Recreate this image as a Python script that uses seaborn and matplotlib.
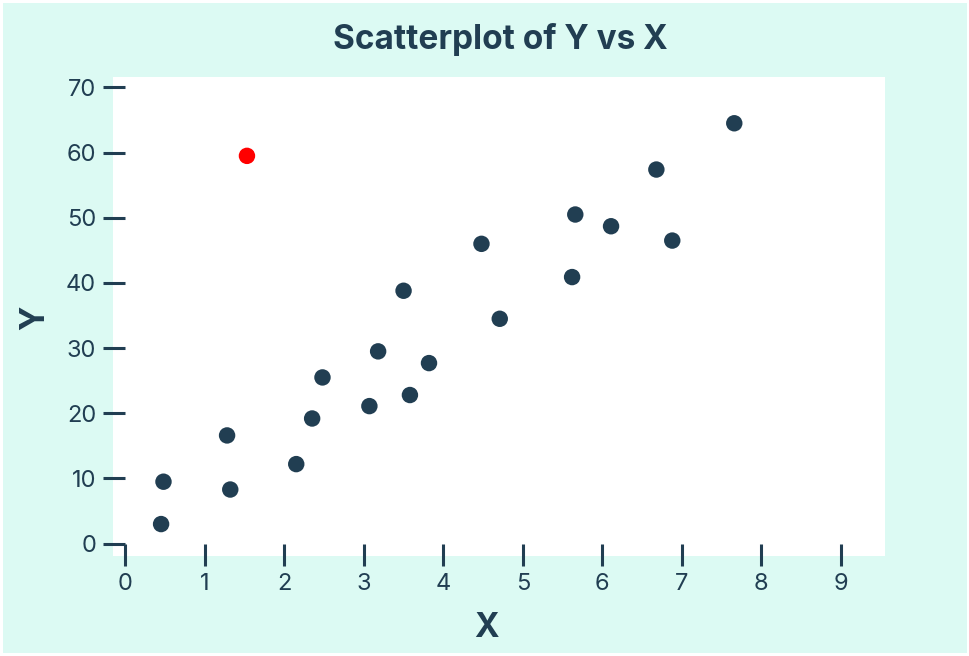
import pandas as pd
import seaborn as sns
import matplotlib.pyplot as plt

# values
x_vals = [0.45, 0.48, 1.32, 1.28, 2.15, 2.35, 2.48, 3.07, 3.18, 3.50,
          3.58, 3.82, 4.48, 4.71, 5.62, 5.66, 6.11, 6.68, 6.88, 7.66]
y_vals = [3.0, 9.5, 8.3, 16.6, 12.2, 19.2, 25.5, 21.1, 29.5, 38.8,
          22.8, 27.7, 46.0, 34.5, 40.9, 50.5, 48.7, 57.4, 46.5, 64.5]
outlier_x = [1.53]
outlier_y = [59.5]
x_ticks = list(range(0, 10))
y_ticks = list(range(0, 80, 10))

navy = '#213e52'
mint = '#dcfaf3'

df = pd.DataFrame({'X': x_vals + outlier_x,
                   'Y': y_vals + outlier_y,
                   'kind': ['normal'] * len(x_vals) + ['outlier'] * len(outlier_x)})

sns.set_style('white')
plt.rcParams['font.family'] = ['Inter', 'DejaVu Sans']

fig = plt.figure(figsize=(9.7, 6.56), dpi=100)
fig.patch.set_facecolor(mint)
fig.patch.set_edgecolor('white')
fig.patch.set_linewidth(4)
ax = fig.add_axes([113 / 970, 1 - 556 / 656, 772 / 970, 479 / 656])
ax.set_facecolor('white')

sns.scatterplot(data=df, x='X', y='Y', hue='kind',
                palette={'normal': navy, 'outlier': '#ff0000'},
                s=140, linewidth=0, legend=False, ax=ax)

ax.set_xlim(-0.155, 9.556)
ax.set_ylim(-1.9, 71.6)
ax.set_xticks(x_ticks)
ax.set_yticks(y_ticks)

# ticks hang off the zero lines, no spines drawn
for side in ['left', 'bottom']:
    ax.spines[side].set_position(('data', 0))
    ax.spines[side].set_color('none')
for side in ['top', 'right']:
    ax.spines[side].set_visible(False)

ax.tick_params(axis='both', which='major', bottom=True, left=True,
               direction='out', length=16, width=2.2,
               color=navy, labelcolor=navy, labelsize=17)
ax.tick_params(axis='y', pad=5)
ax.tick_params(axis='x', pad=5)

ax.set_xlabel('')
ax.set_ylabel('')
fig.text(486 / 970, 1 - 628 / 656, 'X', ha='center', va='center',
         fontsize=24, fontweight='bold', color=navy)
fig.text(35 / 970, 1 - 318 / 656, 'Y', ha='center', va='center', rotation=90,
         fontsize=24, fontweight='bold', color=navy)
fig.text(500 / 970, 1 - 40 / 656, 'Scatterplot of Y vs X', ha='center', va='center',
         fontsize=24, fontweight='bold', color=navy)

fig.savefig('out.png', dpi=100, facecolor=fig.get_facecolor(), edgecolor=fig.get_edgecolor())
